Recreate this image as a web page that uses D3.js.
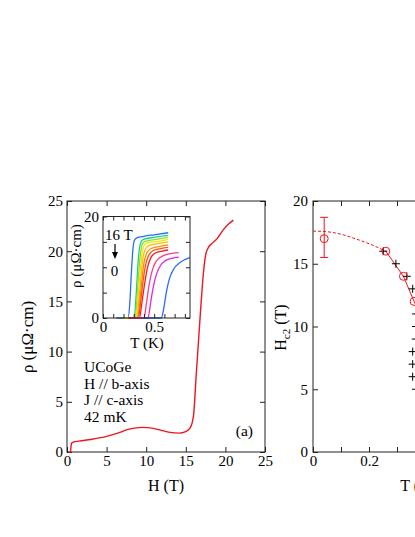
<!DOCTYPE html>
<html><head><meta charset="utf-8">
<script src="https://cdn.jsdelivr.net/npm/d3@7"></script>
<style>
html,body{margin:0;padding:0;background:#fff;}
svg{display:block;font-family:"Liberation Serif","Times New Roman",serif;}
svg text{font-family:"Liberation Serif","Times New Roman",serif;}
</style></head><body>
<svg id="c" width="415" height="537"></svg>
<script>
// ---------------- data ----------------
// (a) main panel: rho vs H at 42 mK
const mainH   = [0.15, 0.45, 0.5, 0.6, 0.8, 1.5, 3.0, 5.0, 6.5, 7.5, 8.5, 9.6, 10.5, 11.7, 13.0, 14.2, 14.9, 15.5, 15.8, 16.0, 16.3, 16.6, 16.9, 17.2, 17.5, 17.8, 18.2, 18.9, 19.7, 20.4, 21.0];
const mainRho = [0, 0, 0.5, 0.9, 0.98, 1.08, 1.25, 1.55, 1.9, 2.2, 2.38, 2.45, 2.4, 2.2, 1.95, 1.88, 2.0, 2.35, 2.9, 3.8, 7.5, 11.0, 14.5, 17.6, 19.6, 20.3, 20.7, 21.2, 22.1, 22.7, 23.1];
const mainXTicks = [0, 5, 10, 15, 20, 25];
const mainYTicks = [0, 5, 10, 15, 20, 25];
const mainNotes = ["UCoGe", "H // b-axis", "J // c-axis", "42 mK"];

// inset: rho vs T for fields 16 T ... 0
const insetColors = ["#2c6cf4", "#10d2a0", "#8ee020", "#f2e600", "#ffbe00", "#ff8a00", "#ff5010", "#ff1a20", "#ff3c82", "#e028e0", "#2c6cf4"];
const insetCurves = [
  [[0.13,0],[0.245,0],[0.262,3],[0.275,8],[0.29,13],[0.305,15.2],[0.33,15.8],[0.40,16.1],[0.50,16.4],[0.637,16.8]],
  [[0.20,0],[0.305,0],[0.322,4],[0.338,9.5],[0.355,13.6],[0.372,15.0],[0.395,15.5],[0.50,15.9],[0.637,16.3]],
  [[0.20,0],[0.315,0],[0.333,4],[0.35,9],[0.368,13],[0.385,14.6],[0.41,15.1],[0.52,15.5],[0.637,15.9]],
  [[0.22,0],[0.322,0],[0.342,4],[0.36,8.5],[0.38,12.5],[0.40,14.2],[0.43,14.8],[0.53,15.1],[0.637,15.5]],
  [[0.22,0],[0.33,0],[0.35,3.5],[0.37,8],[0.39,11.8],[0.415,13.6],[0.45,14.3],[0.55,14.7],[0.637,15.0]],
  [[0.24,0],[0.338,0],[0.36,3.5],[0.38,7.5],[0.40,10.8],[0.43,12.9],[0.47,13.7],[0.56,14.1],[0.637,14.4]],
  [[0.25,0],[0.345,0],[0.37,3.5],[0.39,7],[0.415,10.3],[0.445,12.3],[0.49,13.3],[0.57,13.7],[0.637,13.9]],
  [[0.25,0],[0.355,0],[0.38,3],[0.405,6.5],[0.43,9.5],[0.465,11.8],[0.51,12.8],[0.58,13.2],[0.637,13.4]],
  [[0.28,0],[0.40,0],[0.425,3],[0.45,6.5],[0.48,9.3],[0.52,11.2],[0.58,12.2],[0.66,12.7],[0.74,12.9]],
  [[0.30,0],[0.44,0],[0.465,3],[0.49,6],[0.52,8.5],[0.56,10.3],[0.61,11.3],[0.68,11.8],[0.74,12.0]],
  [[0.40,0],[0.57,0],[0.59,1.5],[0.62,5.2],[0.65,7.8],[0.69,9.6],[0.75,10.9],[0.80,11.5],[0.85,11.9]]
];
const insetXTicks  = [0, 0.1, 0.2, 0.3, 0.4, 0.5, 0.6, 0.7, 0.8];
const insetXLabels = [0, 0.5];
const insetYTicks  = [0, 5, 10, 15, 20];
const insetYLabels = [0, 20];

// (b) right panel: Hc2 vs T
const circT = [0.04, 0.26, 0.323, 0.361, 0.40];
const circH = [17.0, 16.0, 14.0, 12.0, 10.0];
const errLow = [15.5], errHigh = [18.7];
const dashT = [0, 0.05, 0.10, 0.15, 0.20, 0.26];
const dashH = [17.6, 17.55, 17.35, 17.0, 16.6, 16.0];
const plusT = [0.251, 0.296, 0.335, 0.356, 0.368, 0.368, 0.367, 0.356, 0.356, 0.356, 0.368];
const plusH = [16, 15, 14, 13, 11, 10, 9, 8, 7, 6, 5];
const rightXTicks  = [0, 0.1, 0.2, 0.3, 0.4, 0.5, 0.6, 0.7];
const rightXLabels = [0, 0.2, 0.4, 0.6];
const rightYTicks  = [0, 5, 10, 15, 20];

// ---------------- drawing ----------------
const svg = d3.select("#c");
const ink = "#222";
const serif = '"Liberation Serif","Times New Roman",serif';
const has = (arr, d) => arr.some(v => Math.abs(v - d) < 1e-9);

function axes(x, y, o) {
  const [x0, x1] = x.range(), [y0, y1] = y.range();
  const style = g => {
    g.select(".domain").remove();
    g.attr("font-family", serif).attr("font-size", o.fs);
    g.selectAll("line").attr("stroke", ink).attr("stroke-width", 1);
    g.selectAll("text").attr("fill", "#000");
  };
  svg.append("g").attr("transform", `translate(0,${y0})`)
    .call(d3.axisBottom(x).tickValues(o.xt).tickSize(-o.ts).tickPadding(o.xpad).tickFormat(o.xf)).call(style);
  svg.append("g").attr("transform", `translate(0,${y1})`)
    .call(d3.axisTop(x).tickValues(o.xt).tickSize(-o.ts).tickFormat("")).call(style);
  svg.append("g").attr("transform", `translate(${x0},0)`)
    .call(d3.axisLeft(y).tickValues(o.yt).tickSize(-o.ts).tickPadding(o.ypad).tickFormat(o.yf)).call(style);
  svg.append("g").attr("transform", `translate(${x1},0)`)
    .call(d3.axisRight(y).tickValues(o.yt).tickSize(-o.ts).tickFormat("")).call(style);
  svg.append("rect").attr("x", x0).attr("y", y1).attr("width", x1 - x0).attr("height", y0 - y1)
    .attr("fill", "none").attr("stroke", ink).attr("stroke-width", 1);
}

// ---- panel (a)
const xA = d3.scaleLinear().domain([0, 25]).range([67, 265]);
const yA = d3.scaleLinear().domain([0, 25]).range([452, 201]);
axes(xA, yA, {xt: mainXTicks, yt: mainYTicks, ts: 5, fs: 15, xpad: 3.5, ypad: 4,
  xf: d3.format("d"), yf: d3.format("d")});

svg.append("path")
  .datum(mainH.map((h, i) => [h, mainRho[i]]))
  .attr("fill", "none").attr("stroke", "#f0141e").attr("stroke-width", 1.4)
  .attr("d", d3.line().x(d => xA(d[0])).y(d => yA(d[1])).curve(d3.curveMonotoneX));

svg.append("text").attr("transform", "translate(33,337) rotate(-90)")
  .attr("text-anchor", "middle").attr("font-size", 17).text("ρ (μΩ·cm)");
svg.append("text").attr("x", 166).attr("y", 491).attr("text-anchor", "middle")
  .attr("font-size", 16).text("H (T)");

svg.append("g").selectAll("text").data(mainNotes).join("text")
  .attr("x", 84).attr("y", (d, i) => 372 + i * 16.5).attr("font-size", 15.5).text(d => d);
svg.append("text").attr("x", 253).attr("y", 436).attr("text-anchor", "end")
  .attr("font-size", 15.5).text("(a)");

// ---- inset
const xI = d3.scaleLinear().domain([0, 0.85]).range([103, 190]);
const yI = d3.scaleLinear().domain([0, 20]).range([318, 216.5]);
svg.append("rect").attr("x", 103).attr("y", 216.5).attr("width", 87).attr("height", 101.5).attr("fill", "#fff");
const insetLine = d3.line().x(d => xI(d[0])).y(d => yI(d[1])).curve(d3.curveMonotoneX);
svg.append("g").selectAll("path").data(insetCurves).join("path")
  .attr("fill", "none").attr("stroke", (d, i) => insetColors[i]).attr("stroke-width", 1.3)
  .attr("d", insetLine);
axes(xI, yI, {xt: insetXTicks, yt: insetYTicks, ts: 4, fs: 15, xpad: 3, ypad: 4,
  xf: d => has(insetXLabels, d) ? (d === 0 ? "0" : d3.format(".1f")(d)) : "",
  yf: d => has(insetYLabels, d) ? d3.format("d")(d) : ""});
svg.append("text").attr("transform", "translate(81,256) rotate(-90)")
  .attr("text-anchor", "middle").attr("font-size", 15).text("ρ (μΩ·cm)");
svg.append("text").attr("x", 147).attr("y", 348).attr("text-anchor", "middle")
  .attr("font-size", 15).text("T (K)");
svg.append("text").attr("x", 105).attr("y", 240).attr("font-size", 15).text("16 T");
svg.append("line").attr("x1", 115).attr("x2", 115).attr("y1", 244).attr("y2", 253)
  .attr("stroke", "#000").attr("stroke-width", 1.2);
svg.append("path").attr("d", "M112,252 L118,252 L115,259 Z").attr("fill", "#000");
svg.append("text").attr("x", 114.5).attr("y", 276).attr("text-anchor", "middle")
  .attr("font-size", 15).text("0");

// ---- panel (b)
const xB = d3.scaleLinear().domain([0, 0.75]).range([313, 523]);
const yB = d3.scaleLinear().domain([0, 20]).range([452, 201]);
axes(xB, yB, {xt: rightXTicks, yt: rightYTicks, ts: 5, fs: 15, xpad: 3.5, ypad: 5,
  xf: d => has(rightXLabels, d) ? (d === 0 ? "0" : d3.format(".1f")(d)) : "",
  yf: d3.format("d")});

svg.append("path").datum(dashT.map((t, i) => [t, dashH[i]]))
  .attr("fill", "none").attr("stroke", "#f0141e").attr("stroke-width", 1)
  .attr("stroke-dasharray", "3,2")
  .attr("d", d3.line().x(d => xB(d[0])).y(d => yB(d[1])).curve(d3.curveMonotoneX));
svg.append("path").datum(circT.slice(1).map((t, i) => [t, circH[i + 1]]))
  .attr("fill", "none").attr("stroke", "#f0141e").attr("stroke-width", 1)
  .attr("d", d3.line().x(d => xB(d[0])).y(d => yB(d[1])));
// error bar
svg.append("g").selectAll("g").data(errLow).join("g").each(function(lo, i) {
  const g = d3.select(this), cx = xB(circT[i]);
  g.append("line").attr("x1", cx).attr("x2", cx).attr("y1", yB(lo)).attr("y2", yB(errHigh[i]));
  g.append("line").attr("x1", cx - 4).attr("x2", cx + 4).attr("y1", yB(lo)).attr("y2", yB(lo));
  g.append("line").attr("x1", cx - 4).attr("x2", cx + 4).attr("y1", yB(errHigh[i])).attr("y2", yB(errHigh[i]));
  g.selectAll("line").attr("stroke", "#f0141e").attr("stroke-width", 1);
});
// plus markers
svg.append("g").selectAll("path").data(plusT).join("path")
  .attr("d", (t, i) => { const cx = xB(t), cy = yB(plusH[i]);
    return `M${cx - 4},${cy}H${cx + 4}M${cx},${cy - 4}V${cy + 4}`; })
  .attr("stroke", "#000").attr("stroke-width", 1).attr("fill", "none");
// circles
svg.append("g").selectAll("circle").data(circT).join("circle")
  .attr("cx", d => xB(d)).attr("cy", (d, i) => yB(circH[i])).attr("r", 4)
  .attr("fill", "none").attr("stroke", "#f0141e").attr("stroke-width", 1);

const hl = svg.append("text").attr("transform", "translate(286,327.5) rotate(-90)")
  .attr("text-anchor", "middle").attr("font-size", 16);
hl.append("tspan").text("H");
hl.append("tspan").attr("font-size", 11).attr("dy", 4).text("c2");
hl.append("tspan").attr("dy", -4).text(" (T)");
svg.append("text").attr("x", 418).attr("y", 491).attr("text-anchor", "middle")
  .attr("font-size", 16).text("T (K)");
</script>
</body></html>
